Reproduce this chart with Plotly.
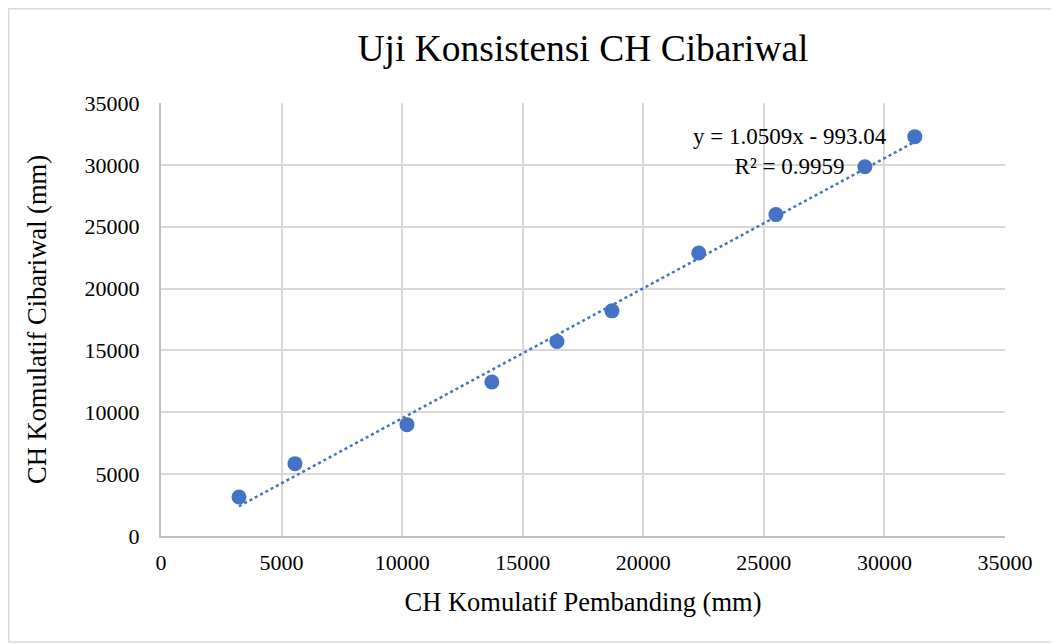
import plotly.graph_objects as go

x_pembanding = [3234, 5556, 10200, 13720, 16420, 18700, 22300, 25500, 29190, 31260]
y_cibariwal = [3150, 5850, 9000, 12450, 15720, 18200, 22870, 25980, 29850, 32280]
slope = 1.0509
intercept = -993.04
r2 = 0.9959

x_ticks = [0, 5000, 10000, 15000, 20000, 25000, 30000, 35000]
y_ticks = [0, 5000, 10000, 15000, 20000, 25000, 30000, 35000]

blue = "#4472C4"
font = "Liberation Serif"

trend_x = [min(x_pembanding), max(x_pembanding)]
trend_y = [slope * v + intercept for v in trend_x]

fig = go.Figure()
fig.add_trace(go.Scatter(x=trend_x, y=trend_y, mode="lines",
                         line=dict(color=blue, width=2.5, dash="dot"),
                         showlegend=False, hoverinfo="skip"))
fig.add_trace(go.Scatter(x=x_pembanding, y=y_cibariwal, mode="markers",
                         marker=dict(color=blue, size=15),
                         showlegend=False))

fig.add_annotation(x=0.745, y=0.889, xref="paper", yref="paper",
                   xanchor="center", yanchor="middle",
                   text=f"y = {slope}x - {abs(intercept):.2f}<br>R² = {r2}",
                   showarrow=False, align="center",
                   font=dict(family=font, size=23, color="black"))

axis_common = dict(range=[0, 35000], showgrid=True,
                   gridcolor="#D9D9D9", gridwidth=1.5, showline=True,
                   linecolor="#BFBFBF", linewidth=2, zeroline=False,
                   ticks="", tickformat="d",
                   tickfont=dict(family=font, size=22, color="black"))

fig.update_layout(
    width=1059, height=644,
    margin=dict(l=153, r=62, t=95, b=116),
    paper_bgcolor="white", plot_bgcolor="white",
    title=dict(text="Uji Konsistensi CH Cibariwal", x=0.5, xanchor="center",
               xref="paper",
               y=1 - 40 / 644, yanchor="middle",
               font=dict(family=font, size=37.5, color="black")),
    font=dict(family=font, size=22, color="black"),
    xaxis=dict(**axis_common, tickvals=x_ticks, ticklabelstandoff=6,
               title=dict(text="CH Komulatif Pembanding (mm)", standoff=18,
                          font=dict(family=font, size=26.5, color="black"))),
    yaxis=dict(**axis_common, tickvals=y_ticks, ticklabelstandoff=15,
               title=dict(text="CH Komulatif Cibariwal (mm)", standoff=30,
                          font=dict(family=font, size=26.5, color="black"))),
)

# outer chart border
fig.add_shape(type="rect", xref="paper", yref="paper",
              x0=(0.75 - 153) / 844, x1=(1049 - 153) / 844,
              y0=(528 - 634) / 433, y1=(528 - 0.75) / 433,
              line=dict(color="#D9D9D9", width=1.5), fillcolor="rgba(0,0,0,0)",
              layer="below")

fig.write_html("out.html")
